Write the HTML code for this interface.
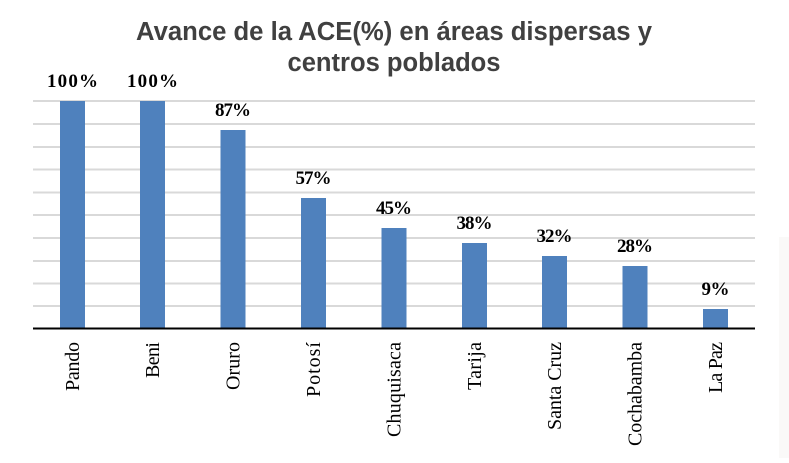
<!DOCTYPE html>
<html><head><meta charset="utf-8"><style>body{margin:0;background:#fff}</style></head><body>
<svg width="789" height="458" xmlns="http://www.w3.org/2000/svg">
<rect width="789" height="458" fill="#fff"/>
<rect x="779" y="237" width="10" height="221" fill="#faf9f8"/>
<text x="394" y="40" text-anchor="middle" font-family="Liberation Sans, sans-serif" font-weight="bold" font-size="25.5" fill="#404040" textLength="516" lengthAdjust="spacingAndGlyphs">Avance de la ACE(%) en áreas dispersas y</text>
<text x="394" y="71" text-anchor="middle" font-family="Liberation Sans, sans-serif" font-weight="bold" font-size="25.5" fill="#404040" textLength="213" lengthAdjust="spacingAndGlyphs">centros poblados</text>
<g stroke="#d9d9d9" stroke-width="2">
<line x1="33" x2="755" y1="101" y2="101"/><line x1="33" x2="755" y1="124" y2="124"/>
<line x1="33" x2="755" y1="147" y2="147"/><line x1="33" x2="755" y1="169.5" y2="169.5"/>
<line x1="33" x2="755" y1="192.5" y2="192.5"/><line x1="33" x2="755" y1="215" y2="215"/>
<line x1="33" x2="755" y1="238" y2="238"/><line x1="33" x2="755" y1="261" y2="261"/>
<line x1="33" x2="755" y1="283.5" y2="283.5"/><line x1="33" x2="755" y1="306" y2="306"/>
</g>
<g fill="#4f81bd">
<rect x="60" y="101" width="25" height="228"/>
<rect x="140" y="101" width="25" height="228"/>
<rect x="220.5" y="130" width="25" height="199"/>
<rect x="301" y="198" width="25" height="131"/>
<rect x="381.5" y="228" width="25" height="101"/>
<rect x="462" y="243" width="25" height="86"/>
<rect x="542" y="256" width="25" height="73"/>
<rect x="622.5" y="266" width="25" height="63"/>
<rect x="703" y="309" width="25" height="20"/>
</g>
<line x1="33" x2="755" y1="328.5" y2="328.5" stroke="#000" stroke-width="2"/>
<g font-family="Liberation Serif, serif" font-weight="bold" font-size="19" text-anchor="middle" fill="#000" lengthAdjust="spacingAndGlyphs">
<text x="72.5" y="87" textLength="51">100%</text><text x="152.5" y="87" textLength="51">100%</text><text x="233" y="116" textLength="36">87%</text>
<text x="313.5" y="184" textLength="36">57%</text><text x="394" y="214" textLength="36">45%</text><text x="474.5" y="229" textLength="36">38%</text>
<text x="554.5" y="242" textLength="36">32%</text><text x="635" y="252" textLength="36">28%</text><text x="715.5" y="295" textLength="28">9%</text>
</g>
<g font-family="Liberation Serif, serif" font-size="20" text-anchor="end" fill="#000" lengthAdjust="spacingAndGlyphs">
<text transform="translate(79,342) rotate(-90)" textLength="49">Pando</text>
<text transform="translate(159,342) rotate(-90)" textLength="36">Beni</text>
<text transform="translate(239.5,342) rotate(-90)" textLength="48">Oruro</text>
<text transform="translate(320,342) rotate(-90)" textLength="55">Potosí</text>
<text transform="translate(400.5,342) rotate(-90)" textLength="95">Chuquisaca</text>
<text transform="translate(481,342) rotate(-90)" textLength="48">Tarija</text>
<text transform="translate(561,342) rotate(-90)" textLength="88">Santa Cruz</text>
<text transform="translate(641.5,342) rotate(-90)" textLength="104">Cochabamba</text>
<text transform="translate(722,342) rotate(-90)" textLength="51">La Paz</text>
</g>
</svg>
</body></html>
